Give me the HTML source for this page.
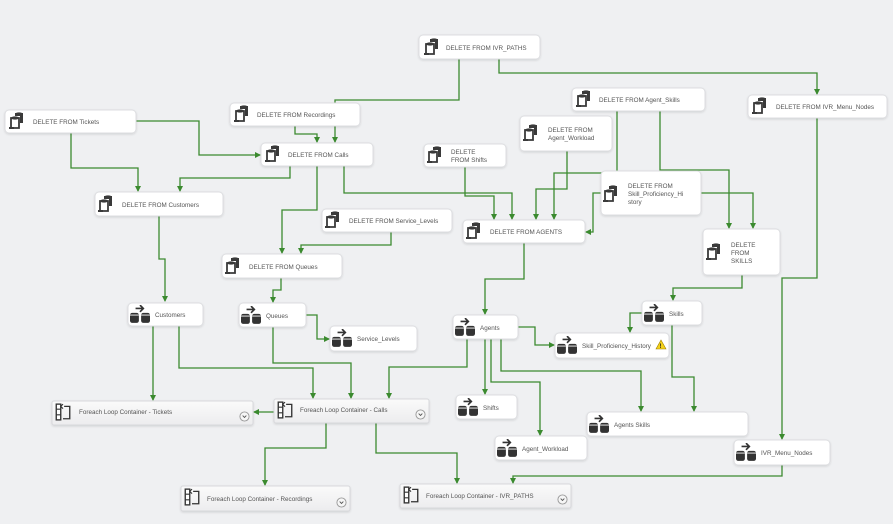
<!DOCTYPE html>
<html><head><meta charset="utf-8"><style>
html,body{margin:0;padding:0;background:#eff0f2;}
svg{display:block;font-family:"Liberation Sans",sans-serif;}
.b{fill:#fff;stroke:#dcdde0;stroke-width:1;filter:url(#sh);}
.f{fill:url(#g);stroke:#d8d9dc;stroke-width:1;filter:url(#sh);}
.t{font-size:6.3px;fill:#555;}
.c{fill:none;stroke:#3b8a2f;stroke-width:1.3;}
</style></head><body>
<svg width="893" height="524" viewBox="0 0 893 524" xmlns="http://www.w3.org/2000/svg">
<defs>
<filter id="sh" x="-10%" y="-20%" width="120%" height="150%"><feDropShadow dx="0" dy="1" stdDeviation="1" flood-color="#000" flood-opacity="0.12"/></filter>
<linearGradient id="g" x1="0" y1="0" x2="0" y2="1"><stop offset="0" stop-color="#fafafa"/><stop offset="1" stop-color="#ececee"/></linearGradient>
<marker id="a" markerWidth="6" markerHeight="6" refX="5" refY="3" orient="auto" markerUnits="userSpaceOnUse"><path d="M0,0 L6,3 L0,6 z" fill="#3b8a2f"/></marker>
<symbol id="sql" viewBox="0 0 16 18"><path d="M6 1 h8 v10 h-3 v-7 h-5z" fill="#3a3a3a"/><ellipse cx="10" cy="2" rx="4" ry="1.6" fill="#3a3a3a"/><path d="M2 6 h8 v10 h-8z" fill="#fff" stroke="#3a3a3a" stroke-width="1.8"/><ellipse cx="6" cy="6" rx="4" ry="1.6" fill="#3a3a3a"/><path d="M0 16 h5" stroke="#3a3a3a" stroke-width="2"/></symbol>
<symbol id="df" viewBox="0 0 18 16"><path d="M5 3 h7 M9 0 l3 3 l-3 3" stroke="#333" stroke-width="1.5" fill="none"/><rect x="0" y="7" width="8" height="9" rx="2" fill="#333"/><rect x="10" y="7" width="8" height="9" rx="2" fill="#333"/><path d="M0 9 h8 M10 9 h8" stroke="#fff" stroke-width=".8"/></symbol>
<symbol id="fe" viewBox="0 0 14 16"><rect x="1" y="1" width="4" height="14" fill="#fff" stroke="#333" stroke-width="1.2"/><path d="M1 5.5 h4 M1 10.5 h4" stroke="#333"/><path d="M8 3 h5 v11 h-6" fill="none" stroke="#333" stroke-width="1.2"/><path d="M7 1 l-2 2 l2 2" fill="none" stroke="#333"/></symbol>
<symbol id="ch" viewBox="0 0 12 12"><circle cx="6" cy="6" r="5" fill="#f6f6f6" stroke="#999"/><path d="M4 5 l2 2 l2 -2" fill="none" stroke="#555"/></symbol>
</defs>

<g class="c" marker-end="url(#a)">
<polyline points="71,133 71,168 138,168 138,191"/>
<polyline points="136,121 199,121 199,155 260,155"/>
<polyline points="295,126 295,134 317,134 317,142"/>
<polyline points="459,59 459,100 335,100 335,142"/>
<polyline points="290,166 290,178 180,178 180,191"/>
<polyline points="317,166 317,210 282,210 282,253"/>
<polyline points="344,166 344,193 512,193 512,219"/>
<polyline points="465,167 465,196 494,196 494,219"/>
<polyline points="391,232 391,245 301,245 301,253"/>
<polyline points="159,216 159,259 165,259 165,301"/>
<polyline points="281,278 281,290 273,290 273,302"/>
<polyline points="617,111 617,173 554,173 554,219"/>
<polyline points="567,151 567,189 536,189 536,219"/>
<polyline points="660,111 660,170 729,170 729,228"/>
<polyline points="601,193 593,193 593,232 586,232"/>
<polyline points="701,193 753,193 753,228"/>
<polyline points="499,59 499,73 817,73 817,94"/>
<polyline points="817,118 817,278 782,278 782,439"/>
<polyline points="742,275 742,288 673,288 673,300"/>
<polyline points="524,243 524,279 485,279 485,314"/>
<polyline points="153,326 153,400"/>
<polyline points="179,326 179,368 313,368 313,398"/>
<polyline points="273,327 273,363 351,363 351,398"/>
<polyline points="306,315 317,315 317,339 329,339"/>
<polyline points="467,339 467,367 389,367 389,398"/>
<polyline points="518,327 535,327 535,345 554,345"/>
<polyline points="485,339 485,394"/>
<polyline points="491,339 491,382 540,382 540,435"/>
<polyline points="501,339 501,371 641,371 641,411"/>
<polyline points="642,313 630,313 630,332"/>
<polyline points="672,325 672,377 694,377 694,411"/>
<polyline points="274,412 254,412"/>
<polyline points="326,423 326,448 265,448 265,485"/>
<polyline points="376,423 376,453 457,453 457,483"/>
<polyline points="782,465 782,476 513,476 513,483"/>
</g>

<g>
<rect class="b" x="419" y="35" width="121" height="24" rx="4"/><use href="#sql" x="424" y="38" width="16" height="18"/><text class="t" x="446" y="50">DELETE FROM IVR_PATHS</text>
<rect class="b" x="230" y="103" width="130" height="23" rx="4"/><use href="#sql" x="234" y="105" width="16" height="18"/><text class="t" x="257" y="117">DELETE FROM Recordings</text>
<rect class="b" x="5" y="110" width="131" height="23" rx="4"/><use href="#sql" x="9" y="112" width="16" height="18"/><text class="t" x="33" y="124">DELETE FROM Tickets</text>
<rect class="b" x="261" y="143" width="112" height="23" rx="4"/><use href="#sql" x="265" y="145" width="16" height="18"/><text class="t" x="288" y="157">DELETE FROM Calls</text>
<rect class="b" x="572" y="88" width="133" height="23" rx="4"/><use href="#sql" x="576" y="90" width="16" height="18"/><text class="t" x="599" y="102">DELETE FROM Agent_Skills</text>
<rect class="b" x="748" y="95" width="139" height="23" rx="4"/><use href="#sql" x="752" y="97" width="16" height="18"/><text class="t" x="776" y="109">DELETE FROM IVR_Menu_Nodes</text>
<rect class="b" x="520" y="116" width="92" height="35" rx="4"/><use href="#sql" x="523" y="124" width="16" height="18"/><text class="t" x="548" y="132">DELETE FROM</text><text class="t" x="548" y="140">Agent_Workload</text>
<rect class="b" x="424" y="144" width="82" height="23" rx="4"/><use href="#sql" x="427" y="146" width="16" height="18"/><text class="t" x="451" y="154">DELETE</text><text class="t" x="451" y="162">FROM Shifts</text>
<rect class="b" x="601" y="171" width="100" height="44" rx="4"/><use href="#sql" x="603" y="185" width="16" height="18"/><text class="t" x="628" y="188">DELETE FROM</text><text class="t" x="628" y="196">Skill_Proficiency_Hi</text><text class="t" x="628" y="204">story</text>
<rect class="b" x="95" y="192" width="128" height="24" rx="4"/><use href="#sql" x="98" y="195" width="16" height="18"/><text class="t" x="122" y="207">DELETE FROM Customers</text>
<rect class="b" x="322" y="209" width="130" height="23" rx="4"/><use href="#sql" x="325" y="211" width="16" height="18"/><text class="t" x="349" y="223">DELETE FROM Service_Levels</text>
<rect class="b" x="463" y="220" width="122" height="23" rx="4"/><use href="#sql" x="466" y="222" width="16" height="18"/><text class="t" x="490" y="234">DELETE FROM AGENTS</text>
<rect class="b" x="703" y="229" width="77" height="46" rx="4"/><use href="#sql" x="706" y="243" width="16" height="18"/><text class="t" x="731" y="247">DELETE</text><text class="t" x="731" y="255">FROM</text><text class="t" x="731" y="263">SKILLS</text>
<rect class="b" x="222" y="254" width="120" height="24" rx="4"/><use href="#sql" x="225" y="257" width="16" height="18"/><text class="t" x="249" y="269">DELETE FROM Queues</text>
</g>

<g>
<rect class="b" x="128" y="303" width="75" height="23" rx="4"/><use href="#df" x="130" y="305" width="20" height="18"/><text class="t" x="155" y="317">Customers</text>
<rect class="b" x="239" y="303" width="67" height="24" rx="4"/><use href="#df" x="241" y="306" width="20" height="18"/><text class="t" x="266" y="318">Queues</text>
<rect class="b" x="330" y="326" width="87" height="25" rx="4"/><use href="#df" x="332" y="329" width="20" height="18"/><text class="t" x="357" y="341">Service_Levels</text>
<rect class="b" x="453" y="315" width="65" height="24" rx="4"/><use href="#df" x="455" y="318" width="20" height="18"/><text class="t" x="480" y="330">Agents</text>
<rect class="b" x="555" y="333" width="114" height="25" rx="4"/><use href="#df" x="557" y="336" width="20" height="18"/><text class="t" x="582" y="348">Skill_Proficiency_History</text>
<path d="M661 340 l5 9 h-10z" fill="#f4d21b" stroke="#a08000" stroke-width=".6"/><text x="659.5" y="348" font-size="6" font-weight="bold" fill="#222">!</text>
<rect class="b" x="642" y="301" width="60" height="24" rx="4"/><use href="#df" x="644" y="304" width="20" height="18"/><text class="t" x="669" y="316">Skills</text>
<rect class="b" x="456" y="395" width="61" height="24" rx="4"/><use href="#df" x="458" y="398" width="20" height="18"/><text class="t" x="483" y="410">Shifts</text>
<rect class="b" x="587" y="412" width="161" height="24" rx="4"/><use href="#df" x="589" y="415" width="20" height="18"/><text class="t" x="614" y="427">Agents Skills</text>
<rect class="b" x="495" y="436" width="92" height="24" rx="4"/><use href="#df" x="497" y="439" width="20" height="18"/><text class="t" x="522" y="451">Agent_Workload</text>
<rect class="b" x="734" y="440" width="96" height="25" rx="4"/><use href="#df" x="736" y="443" width="20" height="18"/><text class="t" x="761" y="455">IVR_Menu_Nodes</text>
</g>

<g>
<rect class="f" x="52" y="401" width="201" height="24" rx="2"/><use href="#fe" x="55" y="403" width="16" height="18"/><text class="t" x="79" y="414">Foreach Loop Container - Tickets</text><use href="#ch" x="239" y="411" width="11" height="11"/>
<rect class="f" x="274" y="399" width="155" height="24" rx="2"/><use href="#fe" x="277" y="401" width="16" height="18"/><text class="t" x="300" y="412">Foreach Loop Container - Calls</text><use href="#ch" x="415" y="409" width="11" height="11"/>
<rect class="f" x="181" y="486" width="169" height="25" rx="2"/><use href="#fe" x="184" y="488" width="16" height="18"/><text class="t" x="207" y="501">Foreach Loop Container - Recordings</text><use href="#ch" x="336" y="497" width="11" height="11"/>
<rect class="f" x="400" y="484" width="171" height="24" rx="2"/><use href="#fe" x="403" y="486" width="16" height="18"/><text class="t" x="426" y="498">Foreach Loop Container - IVR_PATHS</text><use href="#ch" x="557" y="494" width="11" height="11"/>
</g>
</svg>
</body></html>
